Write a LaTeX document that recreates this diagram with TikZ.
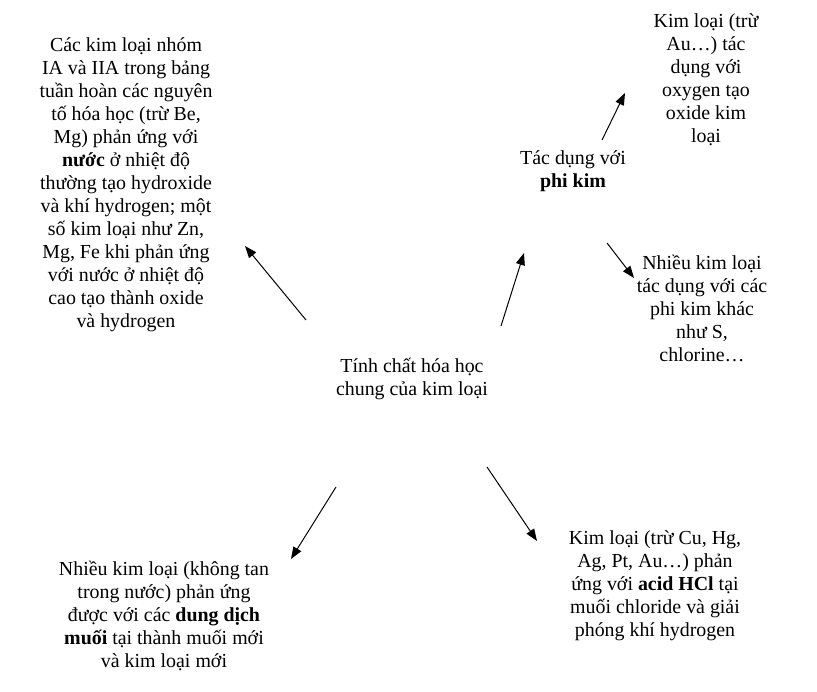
\documentclass[tikz,border=0pt]{standalone}
\usepackage{fontspec}
\setmainfont{Liberation Serif}
\usetikzlibrary{arrows.meta,positioning}

\begin{document}
\begin{tikzpicture}[
  x=1pt, y=-1pt,
  >={Triangle[length=12pt,width=9pt]},
  txt/.style={align=center, inner sep=2pt, font=\fontsize{19.9}{23}\selectfont},
  arrow/.style={->, line width=1pt, draw=black}
]
  \useasboundingbox (0,0) rectangle (817,692);

  % Centre
  \node[txt] (props) at (412,379) {Tính chất hóa học\\chung của kim loại};

  % Around it
  \node[txt] (water) at (126,185) {Các kim loại nhóm\\IA và IIA trong bảng\\tuần hoàn các nguyên\\tố hóa học (trừ Be,\\Mg) phản ứng với\\\textbf{nước} ở nhiệt độ\\thường tạo hydroxide\\và khí hydrogen; một\\số kim loại như Zn,\\Mg, Fe khi phản ứng\\với nước ở nhiệt độ\\cao tạo thành oxide\\và hydrogen};
  \node[txt] (nonmetal) at (573,171) {Tác dụng với\\\textbf{phi kim}};
  \node[txt] (oxygen) at (706,80) {Kim loại (trừ\\Au…) tác\\dụng với\\oxygen tạo\\oxide kim\\loại};
  \node[txt] (others) at (702,308) {Nhiều kim loại\\tác dụng với các\\phi kim khác\\như S,\\chlorine…};
  \node[txt] (salt) at (164,616) {Nhiều kim loại (không tan\\trong nước) phản ứng\\được với các \textbf{dung dịch}\\\textbf{muối} tại thành muối mới\\và kim loại mới};
  \node[txt] (acid) at (655,586) {Kim loại (trừ Cu, Hg,\\Ag, Pt, Au…) phản\\ứng với \textbf{acid HCl} tại\\muối chloride và giải\\phóng khí hydrogen};

  % Arrow ends
  \coordinate (w0) at (306,320);  \coordinate (w1) at (245,246);
  \coordinate (n0) at (501,326);  \coordinate (n1) at (524,253);
  \coordinate (o0) at (602,140);  \coordinate (o1) at (625,93);
  \coordinate (r0) at (607,243);  \coordinate (r1) at (634,278);
  \coordinate (s0) at (336,487);  \coordinate (s1) at (291,559);
  \coordinate (a0) at (487,467);  \coordinate (a1) at (537,541);

  % Connectors
  \draw[arrow] (w0) -- (w1);
  \draw[arrow] (n0) -- (n1);
  \draw[arrow] (o0) -- (o1);
  \draw[arrow] (r0) -- (r1);
  \draw[arrow] (s0) -- (s1);
  \draw[arrow] (a0) -- (a1);

\end{tikzpicture}
\end{document}
